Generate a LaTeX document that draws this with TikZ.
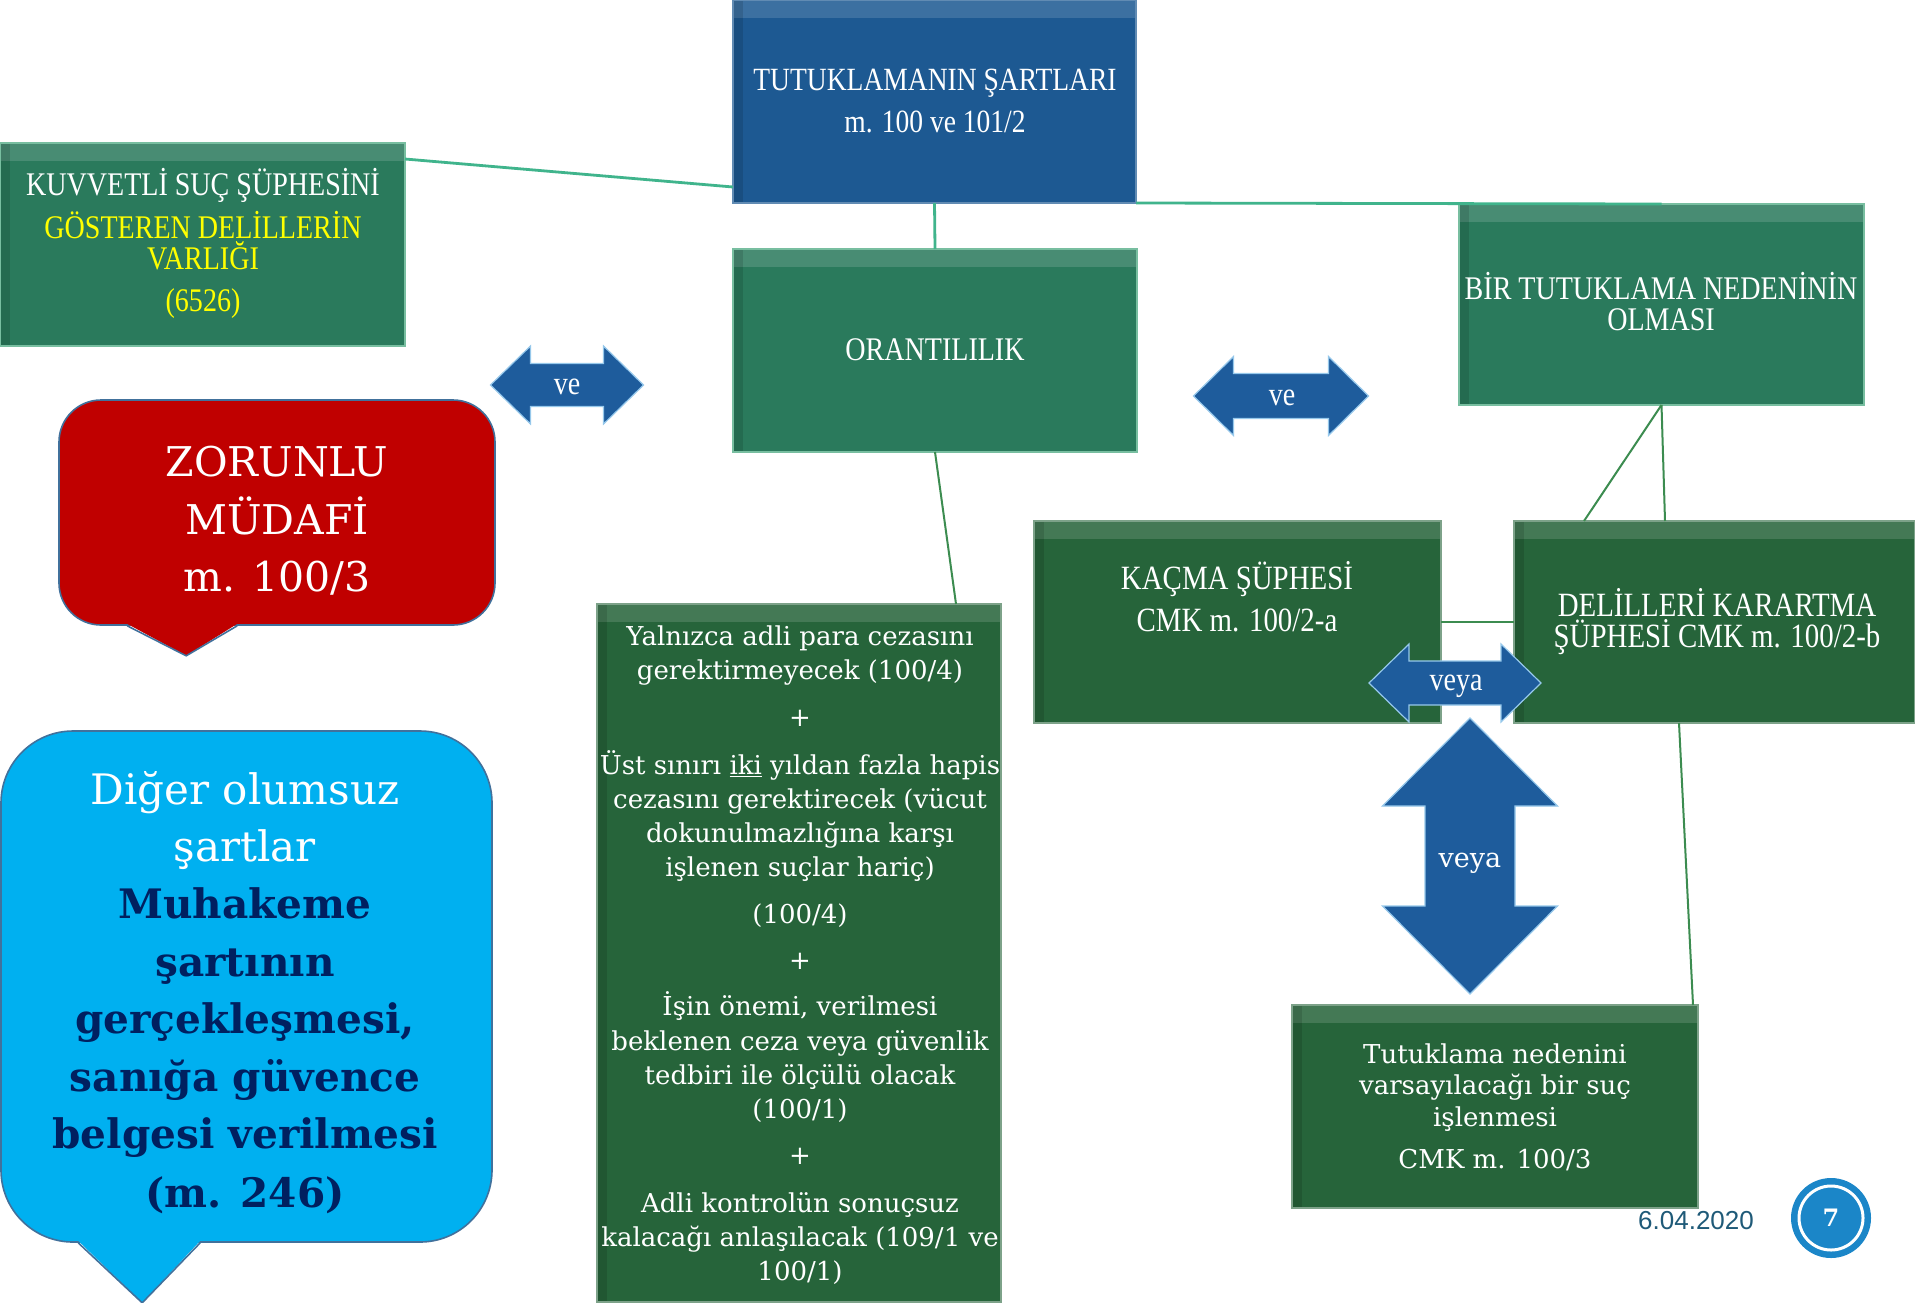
\documentclass[tikz,border=0pt]{standalone}
\usepackage{fontspec}
\setmainfont{DejaVu Serif}
\newfontfamily\condfont{Liberation Serif}[FakeStretch=0.85]
\newfontfamily\sansfont{Liberation Sans}
\usetikzlibrary{calc}
\definecolor{topblue}{RGB}{29,89,146}
\definecolor{gtop}{RGB}{42,122,92}
\definecolor{glow}{RGB}{38,100,58}
\definecolor{gedge}{RGB}{120,190,160}
\definecolor{redc}{RGB}{192,0,0}
\definecolor{callborder}{RGB}{65,113,156}
\definecolor{skyc}{RGB}{0,176,240}
\definecolor{navy}{RGB}{0,32,96}
\definecolor{lineteal}{RGB}{64,180,140}
\definecolor{linegreen}{RGB}{60,140,80}
\definecolor{arrowblue}{RGB}{30,92,156}
\definecolor{arrowlight}{RGB}{150,200,235}
\definecolor{datecol}{RGB}{31,90,120}
\definecolor{pageblue}{RGB}{27,134,200}
\definecolor{yel}{RGB}{255,255,0}
\newcommand\harr[6]{% cx cy len height shaft head
  \path[arr] (#1-#3/2,#2) -- (#1-#3/2+#6,#2-#4/2) -- (#1-#3/2+#6,#2-#5/2) -- (#1+#3/2-#6,#2-#5/2) -- (#1+#3/2-#6,#2-#4/2) -- (#1+#3/2,#2) -- (#1+#3/2-#6,#2+#4/2) -- (#1+#3/2-#6,#2+#5/2) -- (#1-#3/2+#6,#2+#5/2) -- (#1-#3/2+#6,#2+#4/2) -- cycle;}
\newcommand\varr[6]{% cx cy len width shaft head
  \path[arr] (#1,#2-#3/2) -- (#1+#4/2,#2-#3/2+#6) -- (#1+#5/2,#2-#3/2+#6) -- (#1+#5/2,#2+#3/2-#6) -- (#1+#4/2,#2+#3/2-#6) -- (#1,#2+#3/2) -- (#1-#4/2,#2+#3/2-#6) -- (#1-#5/2,#2+#3/2-#6) -- (#1-#5/2,#2-#3/2+#6) -- (#1-#4/2,#2-#3/2+#6) -- cycle;}
\begin{document}
\begin{tikzpicture}[x=0.5pt,y=-0.5pt,
  box/.style={rectangle, inner sep=0pt, outer sep=0pt, line width=0.7pt,
    path picture={\fill[white,opacity=0.14] (path picture bounding box.north west) rectangle ([yshift=-9pt]path picture bounding box.north east);
                  \fill[black,opacity=0.12] (path picture bounding box.north west) rectangle ([xshift=5pt]path picture bounding box.south west);}},
  bluebox/.style={box, fill=topblue, draw=topblue!70!white},
  gbox/.style={box, fill=gtop, draw=gedge},
  dbox/.style={box, fill=glow, draw=glow!60!white},
  tl/.style={anchor=base, inner sep=0pt, text=white},
  cf/.style={font=\condfont\fontsize{16.5}{19}\selectfont},
  cfb/.style={font=\condfont\fontsize{17}{20}\selectfont},
  rf/.style={font=\fontsize{13}{16}\selectfont},
  callbold/.style={tl, text=navy, font=\bfseries\fontsize{20.3}{25}\selectfont},
  conn/.style={draw=lineteal, line width=1.4pt},
  conn2/.style={draw=linegreen, line width=1pt},
  arr/.style={fill=arrowblue, draw=arrowlight, line width=0.6pt, line join=miter},
]
\useasboundingbox[fill=white] (0,0) rectangle (1915,1302);

% boxes
\node[bluebox, minimum width=201.5pt, minimum height=101.5pt] (top) at (934.5,101.5) {};
\node[gbox, minimum width=202.5pt, minimum height=101.5pt] (kuv) at (202.5,244.5) {};
\node[gbox, minimum width=202pt, minimum height=101.5pt] (orant) at (935,350.5) {};
\node[gbox, minimum width=202.5pt, minimum height=100.5pt] (bir) at (1661.5,304.5) {};
\node[dbox, minimum width=203.5pt, minimum height=101pt] (kac) at (1237.5,622) {};
\node[dbox, minimum width=200.5pt, minimum height=101pt] (del) at (1714.5,622) {};
\node[dbox, minimum width=202pt, minimum height=349pt] (yal) at (799,953) {};
\node[dbox, minimum width=203pt, minimum height=101.5pt] (ned) at (1495,1106.5) {};

% connectors
\draw[conn] ($(kuv.north east)+(0,16)$) -- ($(top.south west)+(0,-16)$);
\draw[conn] (top.south) -- (orant.north);
\draw[conn] (top.south east) -- (bir.north);
\draw[conn2] (orant.south) -- ($(yal.north east)+(-45,0)$);
\draw[conn2] (bir.south) -- ($(del.north west)+(70,0)$);
\draw[conn2] (bir.south) -- ($(del.north west)+(151,0)$);
\draw[conn2] ($(del.south west)+(165,0)$) -- ($(ned.north east)+(-5,0)$);
\draw[conn2] (kac.east) -- (del.west);

% texts in boxes
\node[tl,font=\condfont\fontsize{16.2}{19}\selectfont] (topA) at (935,90) {TUTUKLAMANIN ŞARTLARI};
\node[tl,font=\condfont\fontsize{16.2}{19}\selectfont] (topB) at (935,132) {m. 100 ve 101/2};
\node[tl,cf] (kuvA) at (203,195) {KUVVETLİ SUÇ ŞÜPHESİNİ};
\node[tl,cf,text=yel] (kuvB) at (203,238) {GÖSTEREN DELİLLERİN};
\node[tl,cf,text=yel] (kuvC) at (203,269) {VARLIĞI};
\node[tl,cf,text=yel] (kuvD) at (203,311) {(6526)};
\node[tl,cf] (orA) at (935,360) {ORANTILILIK};
\node[tl,cf] (birA) at (1661,299) {BİR TUTUKLAMA NEDENİNİN};
\node[tl,cf] (birB) at (1661,330) {OLMASI};
\node[tl,cfb] (kacA) at (1237,589) {KAÇMA ŞÜPHESİ};
\node[tl,cfb] (kacB) at (1237,631) {CMK m. 100/2-a};
\node[tl,cfb] (delA) at (1717,616) {DELİLLERİ KARARTMA};
\node[tl,cfb] (delB) at (1717,647) {ŞÜPHESİ CMK m. 100/2-b};

\node[tl,rf] (y1) at (800,645) {Yalnızca adli para cezasını};
\node[tl,rf] (y2) at (800,679) {gerektirmeyecek (100/4)};
\node[tl,rf] (y3) at (800,726) {+};
\node[tl,rf] (y4) at (800,774) {Üst sınırı \underline{iki} yıldan fazla hapis};
\node[tl,rf] (y5) at (800,808) {cezasını gerektirecek (vücut};
\node[tl,rf] (y6) at (800,842) {dokunulmazlığına karşı};
\node[tl,rf] (y7) at (800,876) {işlenen suçlar hariç)};
\node[tl,rf] (y8) at (800,923) {(100/4)};
\node[tl,rf] (y9) at (800,969) {+};
\node[tl,rf] (y10) at (800,1015) {İşin önemi, verilmesi};
\node[tl,rf] (y11) at (800,1050) {beklenen ceza veya güvenlik};
\node[tl,rf] (y12) at (800,1084) {tedbiri ile ölçülü olacak};
\node[tl,rf] (y13) at (800,1118) {(100/1)};
\node[tl,rf] (y14) at (800,1164) {+};
\node[tl,rf] (y15) at (800,1212) {Adli kontrolün sonuçsuz};
\node[tl,rf] (y16) at (800,1246) {kalacağı anlaşılacak (109/1 ve};
\node[tl,rf] (y17) at (800,1280) {100/1)};

\node[tl,rf] (n1) at (1495,1063) {Tutuklama nedenini};
\node[tl,rf] (n2) at (1495,1094) {varsayılacağı bir suç};
\node[tl,rf] (n3) at (1495,1126) {işlenmesi};
\node[tl,rf] (n4) at (1495,1168) {CMK m. 100/3};

% red callout
\node[rectangle, rounded corners=21pt, fill=redc, draw=callborder, line width=0.8pt, minimum width=218pt, minimum height=112.5pt, inner sep=0pt] (zor) at (277,512.5) {};
\fill[redc] ($(zor.south west)+(69,-2)$) -- ($(zor.south west)+(128,30)$) -- ($(zor.south west)+(179,-2)$) -- cycle;
\draw[callborder, line width=0.8pt] ($(zor.south west)+(69,0)$) -- ($(zor.south west)+(128,30)$) -- ($(zor.south west)+(179,0)$);
\node[tl, font=\fontsize{20.5}{24}\selectfont] (z1) at (277,476) {ZORUNLU};
\node[tl, font=\fontsize{20.5}{24}\selectfont] (z2) at (277,534) {MÜDAFİ};
\node[tl, font=\fontsize{20.5}{24}\selectfont] (z3) at (277,591) {m. 100/3};

% sky callout
\node[rectangle, rounded corners=36pt, fill=skyc, draw=callborder, line width=0.8pt, minimum width=245.5pt, minimum height=255.5pt, inner sep=0pt] (dig) at (246.5,986.5) {};
\fill[skyc] ($(dig.south west)+(78,-2)$) -- ($(dig.south west)+(142,60)$) -- ($(dig.south west)+(200,-2)$) -- cycle;
\draw[callborder, line width=0.8pt] ($(dig.south west)+(78,0)$) -- ($(dig.south west)+(142,60)$) -- ($(dig.south west)+(200,0)$);
\node[tl, font=\fontsize{21}{25}\selectfont] (d1) at (245,804) {Diğer olumsuz};
\node[tl, font=\fontsize{21}{25}\selectfont] (d2) at (245,861) {şartlar};
\node[callbold] (d3) at (245,918) {Muhakeme};
\node[callbold] (d4) at (245,976) {şartının};
\node[callbold] (d5) at (245,1033) {gerçekleşmesi,};
\node[callbold] (d6) at (245,1091) {sanığa güvence};
\node[callbold] (d7) at (245,1148) {belgesi verilmesi};
\node[callbold] (d8) at (245,1207) {(m. 246)};

% block arrows
\harr{567}{385}{153}{78}{43}{40}
\node[tl,cf] (ve1) at (567,394) {ve};
\harr{1281}{396}{175}{79}{45}{40}
\node[tl,cf] (ve2) at (1282,405) {ve};
\harr{1455}{683}{172}{78}{44}{40}
\node[tl,cf] (veya1) at (1456,690) {veya};
\varr{1470}{856}{276}{175}{90}{88}
\node[tl, font=\fontsize{13.5}{16}\selectfont] (veya2) at (1470,867) {veya};

% footer
\node[tl, font=\sansfont\fontsize{13}{15}\selectfont, text=datecol] (date) at (1696,1229) {6.04.2020};
\node[circle, fill=pageblue, minimum size=40pt, inner sep=0pt] (pgc) at (1831,1218) {};
\node[circle, draw=white, line width=1.5pt, minimum size=32pt, inner sep=0pt, text=white, font=\bfseries\fontsize{12}{14}\selectfont] (pg) at (pgc) {7};
\end{tikzpicture}
\end{document}
